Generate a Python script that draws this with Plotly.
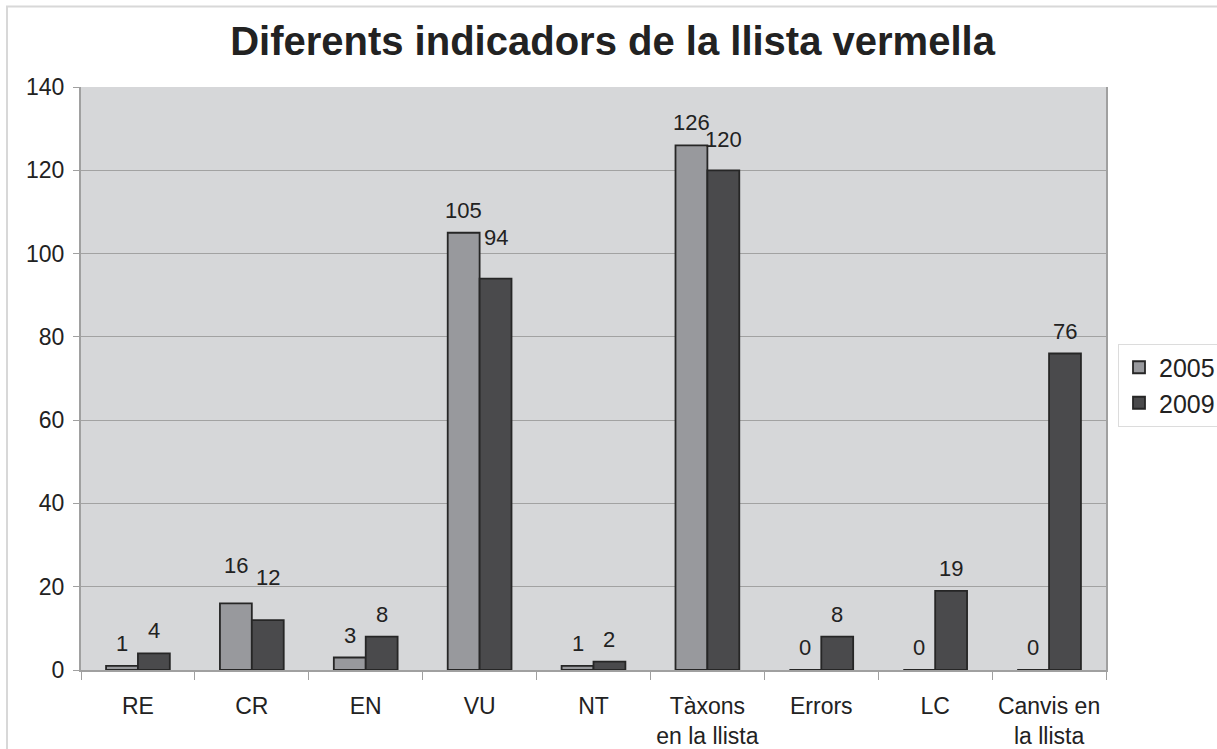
import plotly.graph_objects as go

categories = ["RE", "CR", "EN", "VU", "NT", "Tàxons<br>en la llista", "Errors", "LC", "Canvis en<br>la llista"]
values_2005 = [1, 16, 3, 105, 1, 126, 0, 0, 0]
values_2009 = [4, 12, 8, 94, 2, 120, 8, 19, 76]
series_names = ["2005", "2009"]

FONT = "Liberation Sans, Arial, sans-serif"
TXT = "#222222"
BAR_W = 0.28  # width of one bar in category units (bargap 0.44, two bars)

# extra label lifts (px) for labels that were nudged by hand in the original
label_lift = {("2005", "CR"): 15, ("2009", "CR"): 20, ("2009", "VU"): 19, ("2009", "Tàxons<br>en la llista"): 8}

fig = go.Figure()
colors = ["#98999d", "#4a4a4c"]
for name, vals, col in zip(series_names, [values_2005, values_2009], colors):
    fig.add_trace(go.Bar(
        name=name, x=categories, y=vals,
        marker=dict(color=col, line=dict(color="#262626", width=1.8)),
    ))

annotations = []
for k, (name, vals) in enumerate(zip(series_names, [values_2005, values_2009])):
    off = (-0.5 + k) * BAR_W
    for i, (cat, v) in enumerate(zip(categories, vals)):
        annotations.append(dict(
            x=i + off, y=v, xref="x", yref="y", text=str(v), showarrow=False,
            yanchor="bottom", xanchor="center",
            yshift=8 + label_lift.get((name, cat), 0),
            font=dict(size=22, color=TXT, family=FONT),
        ))

fig.update_layout(
    width=1217, height=749,
    margin=dict(l=81, r=111, t=87, b=79, autoexpand=False),
    paper_bgcolor="white",
    plot_bgcolor="#d6d7d9",
    font=dict(family=FONT, color=TXT, size=23),
    title=dict(text="<b>Diferents indicadors de la llista vermella</b>",
               x=612.5 / 1217, xanchor="center", y=1 - 41 / 749, yanchor="middle",
               font=dict(size=40, color=TXT, family=FONT)),
    barmode="group",
    bargap=0.44,
    bargroupgap=0,
    showlegend=True,
    legend=dict(x=(1118 - 81) / 1025, xanchor="left", y=(670 - 385) / 583, yanchor="middle",
                bgcolor="white", bordercolor="#dcdcdc", borderwidth=1,
                font=dict(size=25, color=TXT), itemwidth=30,
                tracegroupgap=0),
    xaxis=dict(showgrid=False, ticks="outside", tickson="boundaries",
               ticklen=8, tickcolor="#a0a0a0", showline=True, tickangle=0,
               linecolor="#a0a0a0", linewidth=2, mirror=False, automargin=False,
               tickfont=dict(size=23, color=TXT), ticklabelstandoff=14),
    yaxis=dict(range=[0, 140], dtick=20, showgrid=True, gridcolor="#a2a2a2",
               gridwidth=1, ticks="outside", ticklen=6, tickcolor="#a0a0a0",
               showline=True, linecolor="#a0a0a0", linewidth=2, mirror=True, automargin=False,
               zeroline=False, tickfont=dict(size=23, color=TXT), ticklabelstandoff=4),
    annotations=annotations,
    shapes=[dict(type="rect", xref="paper", yref="paper",
                 x0=(7 - 81) / 1025, x1=1.3, y0=-0.5, y1=(670 - 6.5) / 583,
                 line=dict(color="#d8d8d8", width=2), fillcolor="rgba(0,0,0,0)",
                 layer="below")],
)

fig.write_html("out.html", config={"displayModeBar": False},
               post_script="document.body.style.margin='0';document.body.style.overflow='hidden';")
